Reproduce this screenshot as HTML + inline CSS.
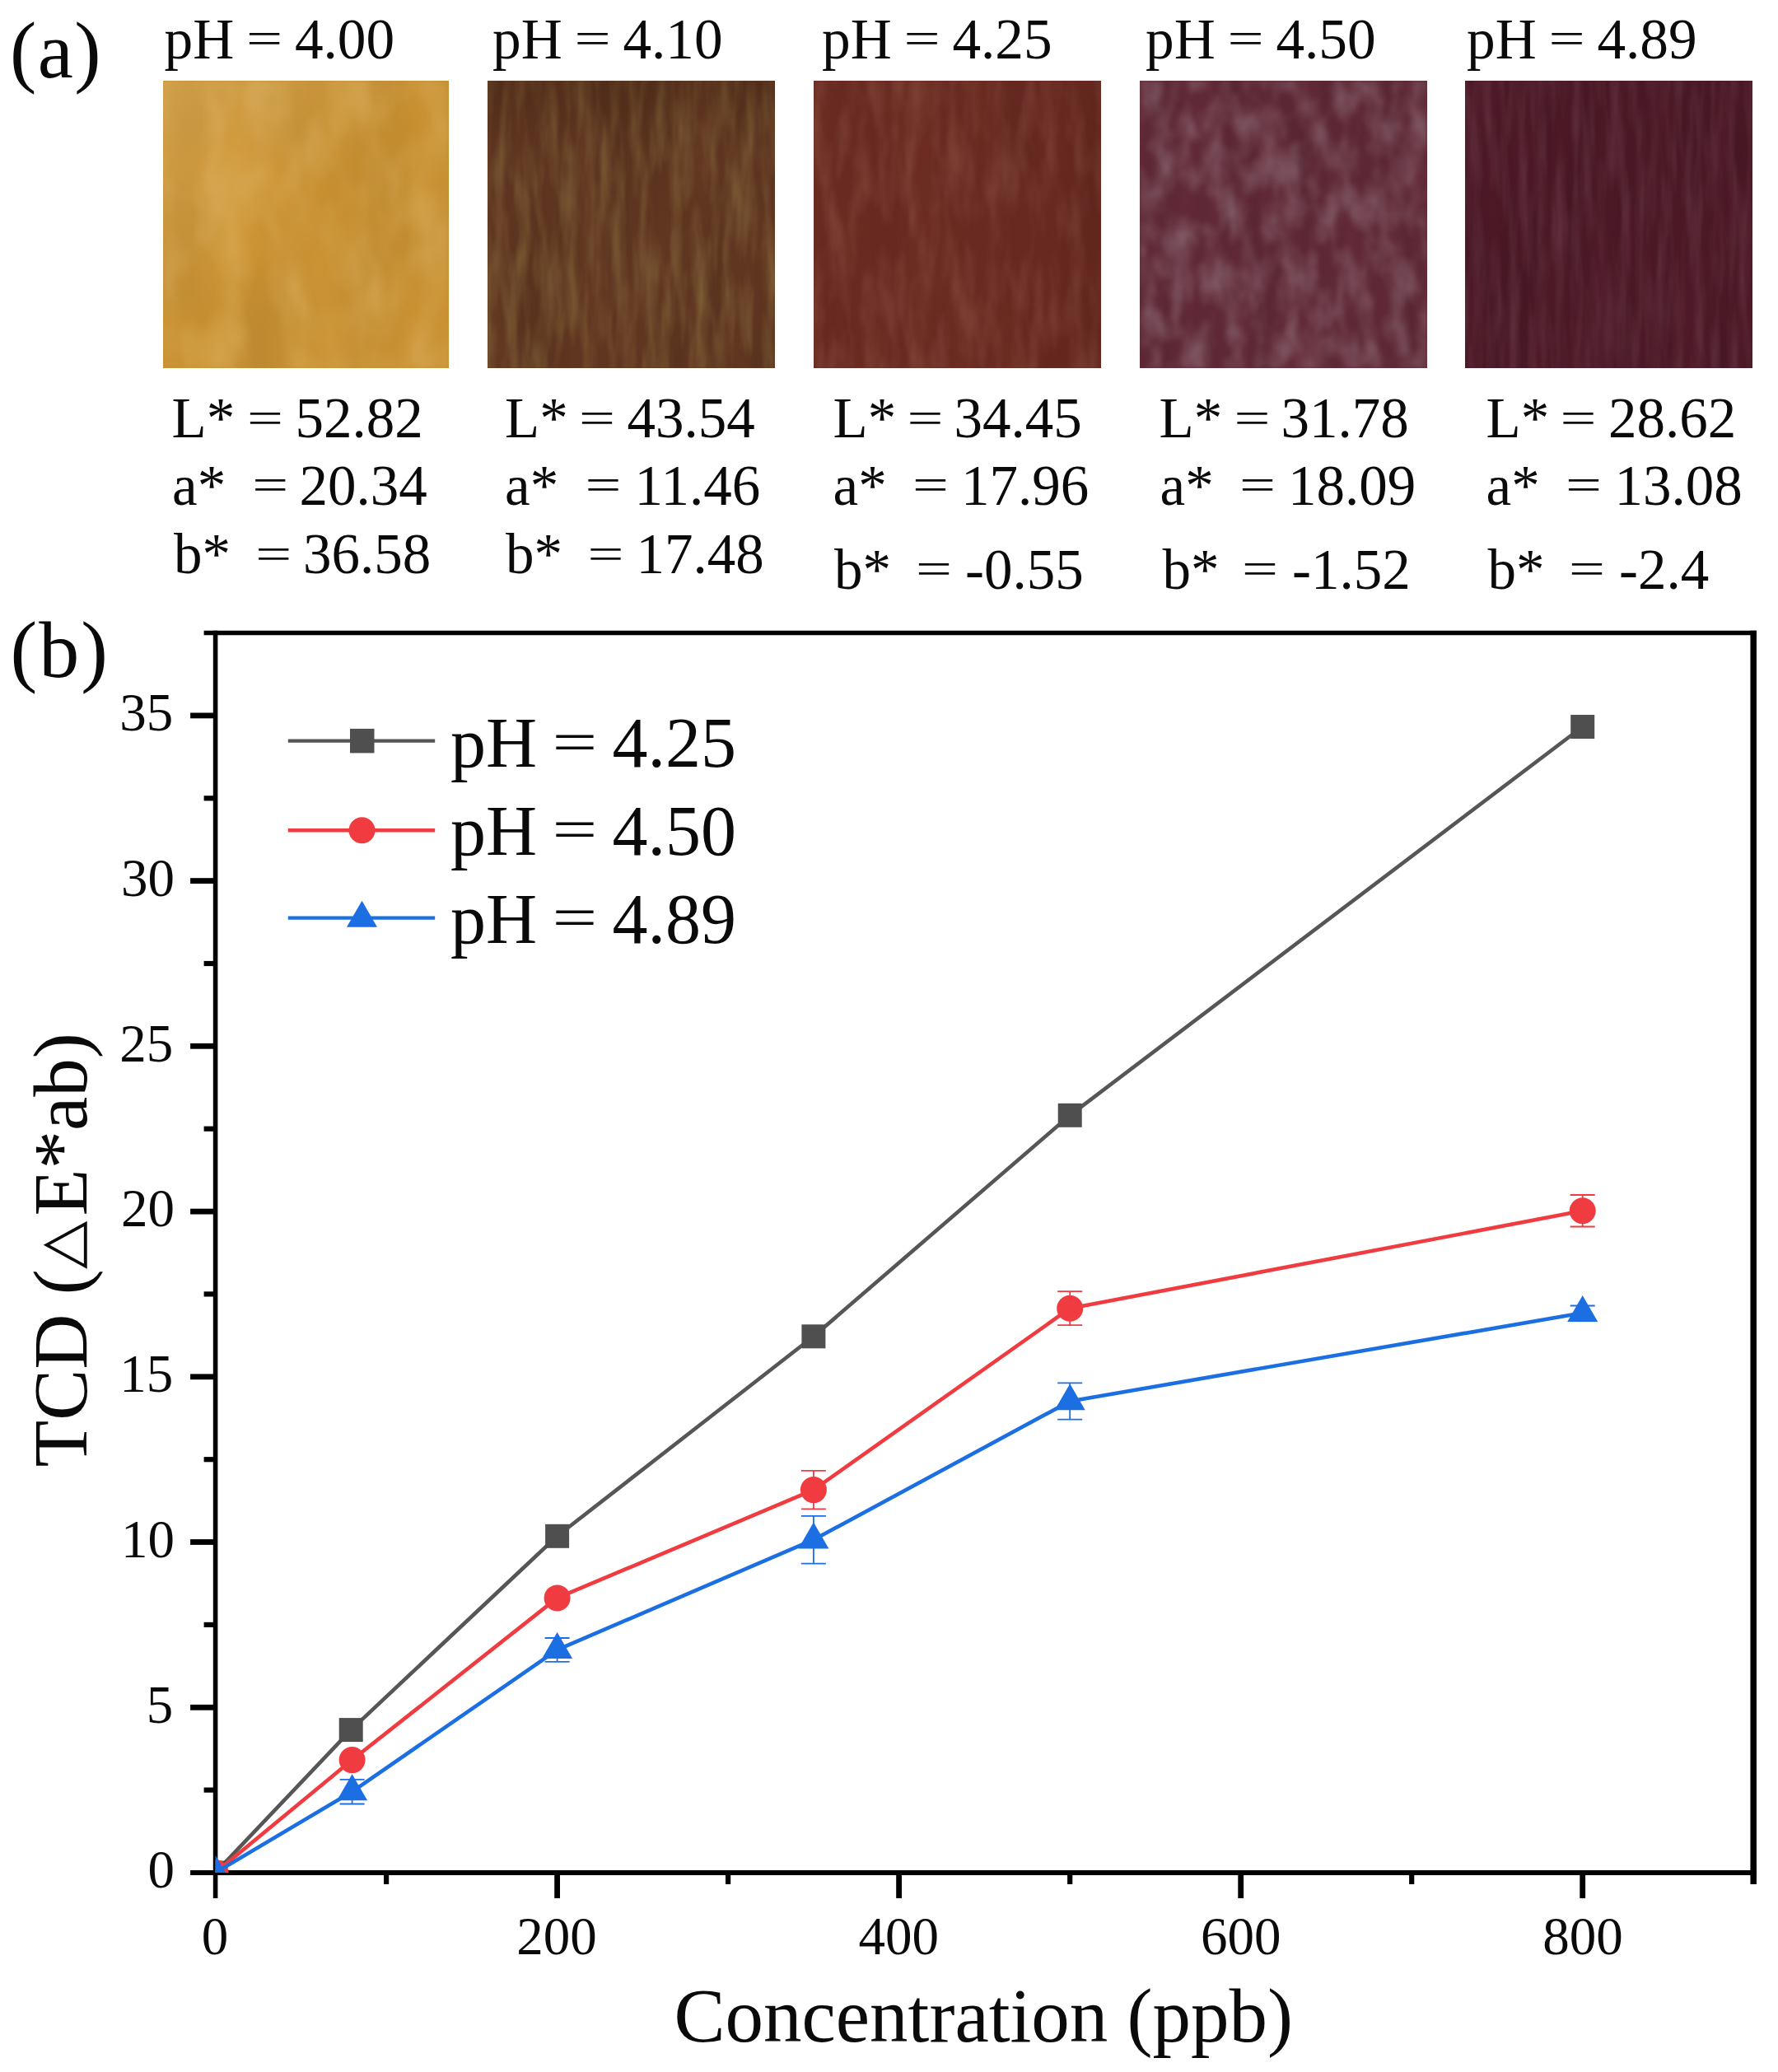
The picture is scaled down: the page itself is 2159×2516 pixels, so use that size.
<!DOCTYPE html>
<html lang="en"><head><meta charset="utf-8"><title>Figure</title>
<style>html,body{margin:0;padding:0;background:#fff}body{width:2159px;height:2516px;overflow:hidden}svg{display:block}text{font-family:"Liberation Serif",serif;fill:#0a0a0a}</style></head><body>
<svg width="2159" height="2516" viewBox="0 0 2159 2516">
<defs>
<filter id="p0" x="0" y="0" width="100%" height="100%" color-interpolation-filters="sRGB">
<feTurbulence type="fractalNoise" baseFrequency="0.012 0.006" numOctaves="2" seed="3"/><feColorMatrix type="matrix" values="1 0 0 0 0  1 0 0 0 0  1 0 0 0 0  0 0 0 0 1" result="n"/>
<feFlood flood-color="#c68e30" result="b"/><feComposite in="b" in2="n" operator="arithmetic" k1="0.140" k2="0.930" k3="0" k4="0" result="m"/>
<feTurbulence type="fractalNoise" baseFrequency="0.02 0.010" numOctaves="3" seed="23"/><feColorMatrix type="matrix" values="0 0 0 0 0.851  0 0 0 0 0.690  0 0 0 0 0.369  1.20 0 0 0 -0.444"/><feGaussianBlur stdDeviation="2.5" result="l"/>
<feMerge><feMergeNode in="m"/><feMergeNode in="l"/></feMerge></filter>
<filter id="p1" x="0" y="0" width="100%" height="100%" color-interpolation-filters="sRGB">
<feTurbulence type="fractalNoise" baseFrequency="0.03 0.004" numOctaves="2" seed="11"/><feColorMatrix type="matrix" values="1 0 0 0 0  1 0 0 0 0  1 0 0 0 0  0 0 0 0 1" result="n"/>
<feFlood flood-color="#5e3520" result="b"/><feComposite in="b" in2="n" operator="arithmetic" k1="0.200" k2="0.900" k3="0" k4="0" result="m"/>
<feTurbulence type="fractalNoise" baseFrequency="0.07 0.010" numOctaves="3" seed="31"/><feColorMatrix type="matrix" values="0 0 0 0 0.518  0 0 0 0 0.404  0 0 0 0 0.227  1.50 0 0 0 -0.555"/><feGaussianBlur stdDeviation="1.2" result="l"/>
<feMerge><feMergeNode in="m"/><feMergeNode in="l"/></feMerge></filter>
<filter id="p2" x="0" y="0" width="100%" height="100%" color-interpolation-filters="sRGB">
<feTurbulence type="fractalNoise" baseFrequency="0.02 0.004" numOctaves="2" seed="7"/><feColorMatrix type="matrix" values="1 0 0 0 0  1 0 0 0 0  1 0 0 0 0  0 0 0 0 1" result="n"/>
<feFlood flood-color="#692b21" result="b"/><feComposite in="b" in2="n" operator="arithmetic" k1="0.140" k2="0.930" k3="0" k4="0" result="m"/>
<feTurbulence type="fractalNoise" baseFrequency="0.06 0.012" numOctaves="3" seed="27"/><feColorMatrix type="matrix" values="0 0 0 0 0.541  0 0 0 0 0.314  0 0 0 0 0.267  1.20 0 0 0 -0.456"/><feGaussianBlur stdDeviation="1.5" result="l"/>
<feMerge><feMergeNode in="m"/><feMergeNode in="l"/></feMerge></filter>
<filter id="p3" x="0" y="0" width="100%" height="100%" color-interpolation-filters="sRGB">
<feTurbulence type="fractalNoise" baseFrequency="0.035 0.004" numOctaves="2" seed="5"/><feColorMatrix type="matrix" values="1 0 0 0 0  1 0 0 0 0  1 0 0 0 0  0 0 0 0 1" result="n"/>
<feFlood flood-color="#5f2836" result="b"/><feComposite in="b" in2="n" operator="arithmetic" k1="0.200" k2="0.900" k3="0" k4="0" result="m"/>
<feTurbulence type="fractalNoise" baseFrequency="0.045 0.022" numOctaves="3" seed="25"/><feColorMatrix type="matrix" values="0 0 0 0 0.588  0 0 0 0 0.478  0 0 0 0 0.518  1.15 0 0 0 -0.402"/><feGaussianBlur stdDeviation="2.4" result="l"/>
<feMerge><feMergeNode in="m"/><feMergeNode in="l"/></feMerge></filter>
<filter id="p4" x="0" y="0" width="100%" height="100%" color-interpolation-filters="sRGB">
<feTurbulence type="fractalNoise" baseFrequency="0.05 0.004" numOctaves="2" seed="9"/><feColorMatrix type="matrix" values="1 0 0 0 0  1 0 0 0 0  1 0 0 0 0  0 0 0 0 1" result="n"/>
<feFlood flood-color="#4b1826" result="b"/><feComposite in="b" in2="n" operator="arithmetic" k1="0.200" k2="0.900" k3="0" k4="0" result="m"/>
<feTurbulence type="fractalNoise" baseFrequency="0.09 0.009" numOctaves="3" seed="29"/><feColorMatrix type="matrix" values="0 0 0 0 0.424  0 0 0 0 0.243  0 0 0 0 0.298  1.20 0 0 0 -0.456"/><feGaussianBlur stdDeviation="1.2" result="l"/>
<feMerge><feMergeNode in="m"/><feMergeNode in="l"/></feMerge></filter>
<clipPath id="plot"><rect x="261.6" y="768.5" width="1867.6" height="1505.5"/></clipPath>
<linearGradient id="g0" x1="0" y1="0" x2="1" y2="1"><stop offset="0" stop-color="#fff0c8" stop-opacity="0.16"/><stop offset="0.5" stop-color="#fff0c8" stop-opacity="0"/><stop offset="1" stop-color="#a05a00" stop-opacity="0.10"/></linearGradient>
<linearGradient id="g1" x1="0" y1="0" x2="0" y2="1"><stop offset="0" stop-color="#2a1006" stop-opacity="0.22"/><stop offset="0.25" stop-color="#2a1006" stop-opacity="0"/></linearGradient>
<linearGradient id="g2" x1="0" y1="0" x2="1" y2="0"><stop offset="0.6" stop-color="#3a0a04" stop-opacity="0"/><stop offset="1" stop-color="#3a0a04" stop-opacity="0.14"/></linearGradient>
</defs>
<rect width="2159" height="2516" fill="#fff"/>
<text x="12" y="94" font-size="97" letter-spacing="1.5">(a)</text>
<rect x="198.0" y="98.5" width="346.6" height="348.2" fill="#c68e30" filter="url(#p0)"/>
<rect x="198.0" y="98.5" width="346.6" height="348.2" fill="url(#g0)"/>
<rect x="592.3" y="98.5" width="348.7" height="348.2" fill="#5e3520" filter="url(#p1)"/>
<rect x="592.3" y="98.5" width="348.7" height="348.2" fill="url(#g1)"/>
<rect x="988.3" y="98.5" width="348.5" height="348.2" fill="#692b21" filter="url(#p2)"/>
<rect x="988.3" y="98.5" width="348.5" height="348.2" fill="url(#g2)"/>
<rect x="1384.0" y="98.5" width="348.5" height="348.2" fill="#5f2836" filter="url(#p3)"/>
<rect x="1779.5" y="98.5" width="348.5" height="348.2" fill="#4b1826" filter="url(#p4)"/>
<text y="70.5" font-size="69.3"><tspan x="199.5">pH</tspan><tspan x="357.9">4.00</tspan></text>
<text transform="translate(321.1 47.6) scale(1.13 0.80)" y="22.2" font-size="69.3" text-anchor="middle">=</text>
<text y="70.5" font-size="69.3"><tspan x="598.0">pH</tspan><tspan x="756.4">4.10</tspan></text>
<text transform="translate(719.6 47.6) scale(1.13 0.80)" y="22.2" font-size="69.3" text-anchor="middle">=</text>
<text y="70.5" font-size="69.3"><tspan x="998.0">pH</tspan><tspan x="1156.4">4.25</tspan></text>
<text transform="translate(1119.6 47.6) scale(1.13 0.80)" y="22.2" font-size="69.3" text-anchor="middle">=</text>
<text y="70.5" font-size="69.3"><tspan x="1391.0">pH</tspan><tspan x="1549.4">4.50</tspan></text>
<text transform="translate(1512.6 47.6) scale(1.13 0.80)" y="22.2" font-size="69.3" text-anchor="middle">=</text>
<text y="70.5" font-size="69.3"><tspan x="1781.0">pH</tspan><tspan x="1939.4">4.89</tspan></text>
<text transform="translate(1902.6 47.6) scale(1.13 0.80)" y="22.2" font-size="69.3" text-anchor="middle">=</text>
<text y="531.0" font-size="69"><tspan x="208.5">L*</tspan><tspan x="358.5">52.82</tspan></text>
<text transform="translate(322.1 508.2) scale(1.13 0.80)" y="22.1" font-size="69.0" text-anchor="middle">=</text>
<text y="612.5" font-size="69"><tspan x="209.0">a*</tspan><tspan x="363.5">20.34</tspan></text>
<text transform="translate(328.2 589.7) scale(1.13 0.80)" y="22.1" font-size="69.0" text-anchor="middle">=</text>
<text y="696.0" font-size="69"><tspan x="211.0">b*</tspan><tspan x="368.0">36.58</tspan></text>
<text transform="translate(332.3 673.2) scale(1.13 0.80)" y="22.1" font-size="69.0" text-anchor="middle">=</text>
<text y="531.0" font-size="69"><tspan x="613.0">L*</tspan><tspan x="761.5">43.54</tspan></text>
<text transform="translate(725.0 508.2) scale(1.13 0.80)" y="22.1" font-size="69.0" text-anchor="middle">=</text>
<text y="612.5" font-size="69"><tspan x="613.0">a*</tspan><tspan x="770.5">11.46</tspan></text>
<text transform="translate(732.5 589.7) scale(1.13 0.80)" y="22.1" font-size="69.0" text-anchor="middle">=</text>
<text y="696.0" font-size="69"><tspan x="614.0">b*</tspan><tspan x="772.5">17.48</tspan></text>
<text transform="translate(735.5 673.2) scale(1.13 0.80)" y="22.1" font-size="69.0" text-anchor="middle">=</text>
<text y="531.0" font-size="69"><tspan x="1011.5">L*</tspan><tspan x="1158.5">34.45</tspan></text>
<text transform="translate(1123.4 508.2) scale(1.13 0.80)" y="22.1" font-size="69.0" text-anchor="middle">=</text>
<text y="612.5" font-size="69"><tspan x="1011.5">a*</tspan><tspan x="1167.0">17.96</tspan></text>
<text transform="translate(1130.0 589.7) scale(1.13 0.80)" y="22.1" font-size="69.0" text-anchor="middle">=</text>
<text y="714.5" font-size="69"><tspan x="1013.0">b*</tspan><tspan x="1172.0">-0.55</tspan></text>
<text transform="translate(1133.9 691.7) scale(1.13 0.80)" y="22.1" font-size="69.0" text-anchor="middle">=</text>
<text y="531.0" font-size="69"><tspan x="1407.5">L*</tspan><tspan x="1555.5">31.78</tspan></text>
<text transform="translate(1520.4 508.2) scale(1.13 0.80)" y="22.1" font-size="69.0" text-anchor="middle">=</text>
<text y="612.5" font-size="69"><tspan x="1408.5">a*</tspan><tspan x="1564.0">18.09</tspan></text>
<text transform="translate(1527.0 589.7) scale(1.13 0.80)" y="22.1" font-size="69.0" text-anchor="middle">=</text>
<text y="714.5" font-size="69"><tspan x="1411.5">b*</tspan><tspan x="1569.0">-1.52</tspan></text>
<text transform="translate(1529.9 691.7) scale(1.13 0.80)" y="22.1" font-size="69.0" text-anchor="middle">=</text>
<text y="531.0" font-size="69"><tspan x="1804.5">L*</tspan><tspan x="1953.0">28.62</tspan></text>
<text transform="translate(1916.5 508.2) scale(1.13 0.80)" y="22.1" font-size="69.0" text-anchor="middle">=</text>
<text y="612.5" font-size="69"><tspan x="1804.5">a*</tspan><tspan x="1960.5">13.08</tspan></text>
<text transform="translate(1923.0 589.7) scale(1.13 0.80)" y="22.1" font-size="69.0" text-anchor="middle">=</text>
<text y="714.5" font-size="69"><tspan x="1806.5">b*</tspan><tspan x="1966.0">-2.4</tspan></text>
<text transform="translate(1927.0 691.7) scale(1.13 0.80)" y="22.1" font-size="69.0" text-anchor="middle">=</text>
<text x="12.5" y="821.5" font-size="98" letter-spacing="2">(b)</text>
<g stroke="#000" fill="none" stroke-linecap="butt">
<path d="M261.6 765.8V2305.0" stroke-width="5.6"/>
<path d="M231.1 2274.0H2132.7" stroke-width="6.0"/>
<path d="M247.6 768.5H2132.7" stroke-width="5.5"/>
<path d="M2129.2 765.8V2288.0" stroke-width="7.5"/>
<path d="M231.1 2073.3H261.6" stroke-width="6.8"/>
<path d="M231.1 1872.5H261.6" stroke-width="6.8"/>
<path d="M231.1 1671.8H261.6" stroke-width="6.8"/>
<path d="M231.1 1471.1H261.6" stroke-width="6.8"/>
<path d="M231.1 1270.3H261.6" stroke-width="6.8"/>
<path d="M231.1 1069.6H261.6" stroke-width="6.8"/>
<path d="M231.1 868.9H261.6" stroke-width="6.8"/>
<path d="M247.6 2173.6H261.6" stroke-width="6.2"/>
<path d="M247.6 1972.9H261.6" stroke-width="6.2"/>
<path d="M247.6 1772.2H261.6" stroke-width="6.2"/>
<path d="M247.6 1571.4H261.6" stroke-width="6.2"/>
<path d="M247.6 1370.7H261.6" stroke-width="6.2"/>
<path d="M247.6 1170.0H261.6" stroke-width="6.2"/>
<path d="M247.6 969.3H261.6" stroke-width="6.2"/>
<path d="M676.6 2274.0V2305.0" stroke-width="6.8"/>
<path d="M1091.6 2274.0V2305.0" stroke-width="6.8"/>
<path d="M1506.7 2274.0V2305.0" stroke-width="6.8"/>
<path d="M1921.7 2274.0V2305.0" stroke-width="6.8"/>
<path d="M469.1 2274.0V2288.0" stroke-width="6.2"/>
<path d="M884.1 2274.0V2288.0" stroke-width="6.2"/>
<path d="M1299.2 2274.0V2288.0" stroke-width="6.2"/>
<path d="M1714.2 2274.0V2288.0" stroke-width="6.2"/>
</g>
<g clip-path="url(#plot)">
<polyline fill="none" stroke="#565656" stroke-width="4.6" stroke-linejoin="round" points="261.6,2274.0 426.2,2100.6 676.6,1865.3 987.9,1622.8 1299.2,1354.3 1921.7,882.5"/>
<rect x="247.1" y="2259.5" width="29" height="29" fill="#4f4f4f"/>
<rect x="411.7" y="2086.1" width="29" height="29" fill="#4f4f4f"/>
<rect x="662.1" y="1850.8" width="29" height="29" fill="#4f4f4f"/>
<rect x="973.4" y="1608.3" width="29" height="29" fill="#4f4f4f"/>
<rect x="1284.7" y="1339.8" width="29" height="29" fill="#4f4f4f"/>
<rect x="1907.2" y="868.0" width="29" height="29" fill="#4f4f4f"/>
<polyline fill="none" stroke="#f03b40" stroke-width="4.6" stroke-linejoin="round" points="261.6,2274.0 427.6,2137.1 676.6,1940.4 987.9,1809.1 1299.2,1588.7 1921.7,1470.3"/>
<path d="M987.9 1785.8V1832.4M972.9 1785.8H1002.9M972.9 1832.4H1002.9" stroke="#f03b40" stroke-width="1.8" fill="none"/>
<path d="M1299.2 1568.2V1609.2M1284.2 1568.2H1314.2M1284.2 1609.2H1314.2" stroke="#f03b40" stroke-width="1.8" fill="none"/>
<path d="M1921.7 1451.0V1489.5M1906.7 1451.0H1936.7M1906.7 1489.5H1936.7" stroke="#f03b40" stroke-width="1.8" fill="none"/>
<circle cx="261.6" cy="2274.0" r="16" fill="#f03b40"/>
<circle cx="427.6" cy="2137.1" r="16" fill="#f03b40"/>
<circle cx="676.6" cy="1940.4" r="16" fill="#f03b40"/>
<circle cx="987.9" cy="1809.1" r="16" fill="#f03b40"/>
<circle cx="1299.2" cy="1588.7" r="16" fill="#f03b40"/>
<circle cx="1921.7" cy="1470.3" r="16" fill="#f03b40"/>
<polyline fill="none" stroke="#1b6fe2" stroke-width="4.6" stroke-linejoin="round" points="261.6,2274.0 427.6,2175.6 676.6,2003.4 987.9,1869.7 1299.2,1701.5 1921.7,1594.3"/>
<path d="M427.6 2160.8V2190.5M412.6 2160.8H442.6M412.6 2190.5H442.6" stroke="#1b6fe2" stroke-width="1.8" fill="none"/>
<path d="M676.6 1989.0V2017.9M661.6 1989.0H691.6M661.6 2017.9H691.6" stroke="#1b6fe2" stroke-width="1.8" fill="none"/>
<path d="M987.9 1840.8V1898.6M972.9 1840.8H1002.9M972.9 1898.6H1002.9" stroke="#1b6fe2" stroke-width="1.8" fill="none"/>
<path d="M1299.2 1679.4V1723.6M1284.2 1679.4H1314.2M1284.2 1723.6H1314.2" stroke="#1b6fe2" stroke-width="1.8" fill="none"/>
<path d="M1921.7 1585.5V1603.2M1906.7 1585.5H1936.7M1906.7 1603.2H1936.7" stroke="#1b6fe2" stroke-width="1.8" fill="none"/>
<path d="M261.6 2252.7L280.1 2284.7L243.1 2284.7Z" fill="#1b6fe2"/>
<path d="M427.6 2154.3L446.1 2186.3L409.1 2186.3Z" fill="#1b6fe2"/>
<path d="M676.6 1982.1L695.1 2014.1L658.1 2014.1Z" fill="#1b6fe2"/>
<path d="M987.9 1848.4L1006.4 1880.4L969.4 1880.4Z" fill="#1b6fe2"/>
<path d="M1299.2 1680.2L1317.7 1712.2L1280.7 1712.2Z" fill="#1b6fe2"/>
<path d="M1921.7 1573.0L1940.2 1605.0L1903.2 1605.0Z" fill="#1b6fe2"/>
</g>
<text x="212.0" y="2292.3" font-size="65" text-anchor="end">0</text>
<text x="210.3" y="2091.6" font-size="65" text-anchor="end">5</text>
<text x="212.0" y="1890.8" font-size="65" text-anchor="end">10</text>
<text x="210.3" y="1690.1" font-size="65" text-anchor="end">15</text>
<text x="212.0" y="1489.4" font-size="65" text-anchor="end">20</text>
<text x="210.3" y="1288.6" font-size="65" text-anchor="end">25</text>
<text x="212.0" y="1087.9" font-size="65" text-anchor="end">30</text>
<text x="210.3" y="887.2" font-size="65" text-anchor="end">35</text>
<text x="261.0" y="2372.5" font-size="65" text-anchor="middle">0</text>
<text x="676.0" y="2372.5" font-size="65" text-anchor="middle">200</text>
<text x="1091.3" y="2372.5" font-size="65" text-anchor="middle">400</text>
<text x="1506.7" y="2372.5" font-size="65" text-anchor="middle">600</text>
<text x="1922.1" y="2372.5" font-size="65" text-anchor="middle">800</text>
<text x="818.5" y="2478.5" font-size="93">Concentration (ppb)</text>
<text transform="translate(105.4 1781.6) rotate(-90)" font-size="93">TCD (</text>
<text transform="translate(105.9 1541) rotate(-90) scale(1 0.91)" y="-9.3" font-size="76" style="font-family:'DejaVu Sans',sans-serif">△</text>
<text transform="translate(105.4 1476.4) rotate(-90)" font-size="93">E*ab)</text>
<path d="M349.8 899.6H528.2" stroke="#565656" stroke-width="4.4"/>
<rect x="425" y="884.9" width="29.5" height="29.5" fill="#4f4f4f"/>
<text y="931.2" font-size="86.0"><tspan x="547.0">pH</tspan><tspan x="743.6">4.25</tspan></text>
<text transform="translate(697.8 902.8) scale(1.13 0.80)" y="27.5" font-size="86.0" text-anchor="middle">=</text>
<path d="M349.8 1008.2H528.2" stroke="#f03b40" stroke-width="4.4"/>
<circle cx="439.5" cy="1008.2" r="16" fill="#f03b40"/>
<text y="1037.7" font-size="86.0"><tspan x="547.0">pH</tspan><tspan x="743.6">4.50</tspan></text>
<text transform="translate(697.8 1009.3) scale(1.13 0.80)" y="27.5" font-size="86.0" text-anchor="middle">=</text>
<path d="M349.8 1114.6H528.2" stroke="#1b6fe2" stroke-width="4.4"/>
<path d="M439.5 1093.8L458.0 1125.8L421.0 1125.8Z" fill="#1b6fe2"/>
<text y="1144.8" font-size="86.0"><tspan x="547.0">pH</tspan><tspan x="743.6">4.89</tspan></text>
<text transform="translate(697.8 1116.4) scale(1.13 0.80)" y="27.5" font-size="86.0" text-anchor="middle">=</text>
</svg></body></html>
